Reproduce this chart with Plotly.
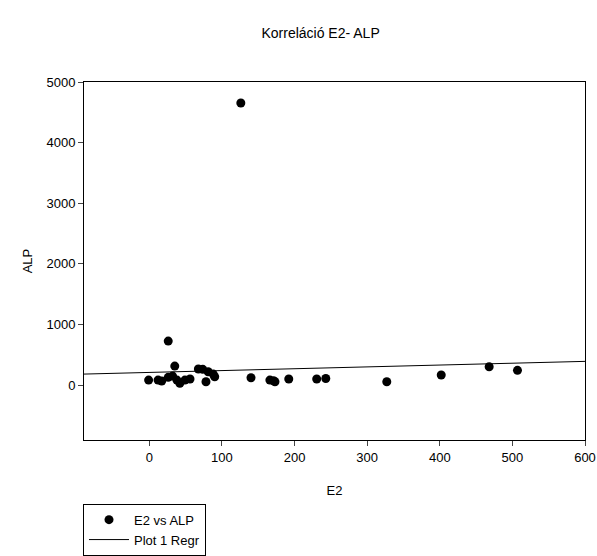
import plotly.graph_objects as go
import numpy as np

e2 = [-1, 12, 17, 26, 32, 35, 38, 42, 49, 56, 67.5, 73.5, 78, 81, 88, 90,
      26, 126, 140, 166, 171, 173, 192, 230.5, 243, 327, 402, 468, 507]
alp = [82, 82, 66, 127, 148, 313, 82, 28, 82, 99, 264, 259, 54, 219, 181, 137,
       725, 4654, 120, 82, 71, 54, 99, 99, 107, 54, 165, 302, 242]

reg_intercept = 208
reg_slope = 0.304
x_range = [-90, 600]
y_range = [-907, 5000]
x_ticks = [0, 100, 200, 300, 400, 500, 600]
y_ticks = [0, 1000, 2000, 3000, 4000, 5000]

font = "Liberation Sans, Arial, sans-serif"

reg_x = np.array(x_range, dtype=float)
reg_y = reg_intercept + reg_slope * reg_x

fig = go.Figure()
fig.add_trace(go.Scatter(x=e2, y=alp, mode="markers", name="E2 vs ALP",
                         marker=dict(color="black", size=9)))
fig.add_trace(go.Scatter(x=reg_x, y=reg_y, mode="lines", name="Plot 1 Regr",
                         line=dict(color="black", width=1)))

fig.update_layout(
    width=597, height=556,
    margin=dict(l=84, r=12, t=82, b=116, autoexpand=False),
    paper_bgcolor="white", plot_bgcolor="white",
    font=dict(family=font, size=13, color="black"),
    title=dict(text="Korreláció E2- ALP", x=0.537, xanchor="center", y=0.94, yanchor="middle",
               font=dict(size=14, family=font, color="black")),
    showlegend=True,
    legend=dict(x=-0.002, xanchor="left", y=-0.178, yanchor="top", yref="paper",
                bordercolor="black", borderwidth=1, bgcolor="white",
                font=dict(size=13, family=font), itemwidth=40, tracegroupgap=0),
)
fig.update_xaxes(range=x_range, tickvals=x_ticks, ticks="outside", ticklen=5,
                 showline=True, linecolor="black", linewidth=1, mirror=True,
                 showgrid=False, zeroline=False, automargin=False,
                 title=dict(text="E2", font=dict(size=13), standoff=22),
                 tickfont=dict(size=13))
fig.update_yaxes(range=y_range, tickvals=y_ticks, ticks="outside", ticklen=5,
                 showline=True, linecolor="black", linewidth=1, mirror=True,
                 showgrid=False, zeroline=False, automargin=False,
                 title=dict(text="ALP", font=dict(size=13), standoff=10),
                 tickfont=dict(size=13))

fig.write_html("out.html", config={"displayModeBar": False},
               post_script="document.body.style.margin='0';")
